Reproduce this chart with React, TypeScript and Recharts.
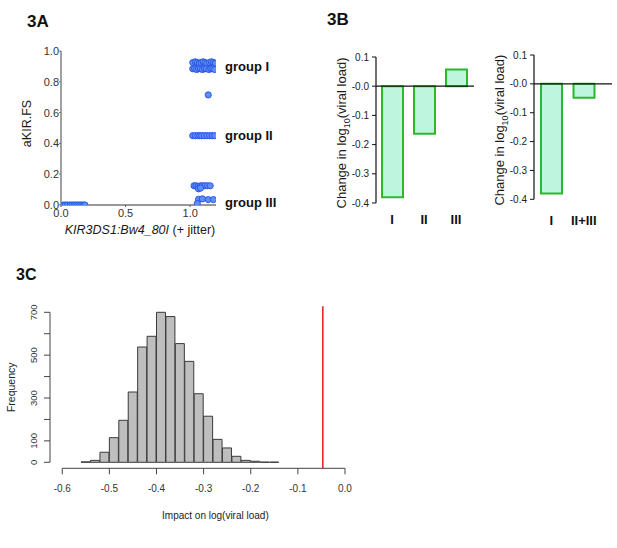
import React from "react";
import {
  ScatterChart,
  Scatter,
  BarChart,
  Bar,
  XAxis,
  YAxis,
  ReferenceLine,
  ReferenceDot,
} from "recharts";

const FONT = "'Liberation Sans', Arial, Helvetica, sans-serif";

// ---- 3A: aKIR.FS vs KIR3DS1:Bw4_80I carriage (x jittered) ----
const noncarriers: [number, number][] = [
  [0.02, 0], [0.035, 0], [0.05, 0], [0.07, 0], [0.085, 0], [0.1, 0],
  [0.115, 0], [0.13, 0], [0.145, 0], [0.16, 0], [0.175, 0], [0.185, 0],
];
const groupIPoints: [number, number][] = [
  [1.02, 0.925], [1.04, 0.93], [1.055, 0.925], [1.07, 0.92], [1.085, 0.925],
  [1.1, 0.93], [1.115, 0.925], [1.13, 0.92], [1.15, 0.925], [1.165, 0.93],
  [1.18, 0.925], [1.195, 0.92],
  [1.02, 0.885], [1.035, 0.885], [1.05, 0.88], [1.065, 0.885], [1.08, 0.885],
  [1.095, 0.88], [1.11, 0.885], [1.125, 0.885], [1.145, 0.88], [1.16, 0.885],
  [1.175, 0.885], [1.19, 0.88],
  [1.14, 0.715],
];
const groupIIPoints: [number, number][] = [
  [1.02, 0.45], [1.04, 0.45], [1.06, 0.45], [1.075, 0.45], [1.09, 0.45],
  [1.11, 0.45], [1.13, 0.45], [1.15, 0.45], [1.17, 0.45], [1.19, 0.45],
];
const groupIIIPoints: [number, number][] = [
  [1.03, 0.125], [1.045, 0.125], [1.06, 0.12], [1.08, 0.125], [1.095, 0.125],
  [1.115, 0.125], [1.135, 0.125], [1.155, 0.125], [1.065, 0.105], [1.08, 0.11],
  [1.065, 0.037], [1.095, 0.04], [1.14, 0.035], [1.18, 0.035], [1.055, 0.01],
];
const groupNames = ["group I", "group II", "group III"];
const groupLabelY = [0.9, 0.45, 0.02];
const fsTicks = [0, 0.2, 0.4, 0.6, 0.8, 1];
const jitterTicks = [0, 0.5, 1];

// ---- 3B: change in log10(viral load) by group ----
const groupsB1 = ["I", "II", "III"];
const changeB1 = [-0.38, -0.163, 0.057];
const groupsB2 = ["I", "II+III"];
const changeB2 = [-0.38, -0.048];
const changeTicks = [0.1, 0, -0.1, -0.2, -0.3, -0.4];

// ---- 3C: permutation histogram ----
const binLower = [
  -0.56, -0.54, -0.52, -0.5, -0.48, -0.46, -0.44, -0.42, -0.4, -0.38, -0.36,
  -0.34, -0.32, -0.3, -0.28, -0.26, -0.24, -0.22, -0.2, -0.18, -0.16,
];
const binCounts = [
  2, 9, 47, 115, 196, 328, 538, 588, 700, 680, 554,
  471, 320, 215, 107, 67, 28, 9, 5, 1, 1,
];
const binWidth = 0.02;
const impactTicks = [-0.6, -0.5, -0.4, -0.3, -0.2, -0.1, 0];
const freqTicks = [0, 100, 200, 300, 400, 500, 600, 700];
const freqLabelled = [0, 100, 300, 500, 700];
const observedImpact = -0.047;

const scatterData = [
  ...noncarriers,
  ...groupIPoints,
  ...groupIIPoints,
  ...groupIIIPoints,
].map(([x, y]) => ({ x, y }));
const dataB1 = groupsB1.map((group, i) => ({ group, change: changeB1[i] }));
const dataB2 = groupsB2.map((group, i) => ({ group, change: changeB2[i] }));
const histData = binLower.map((lo, i) => ({
  mid: +(lo + binWidth / 2).toFixed(3),
  count: binCounts[i],
}));

const fmtChange = (v: number) =>
  v > 0 ? v.toFixed(1) : "-" + Math.abs(v).toFixed(1);

const Dot = (props: any) => (
  <circle
    cx={props.cx}
    cy={props.cy}
    r={3.1}
    fill="#5f8ef8"
    stroke="#2350e0"
    strokeWidth={0.9}
  />
);

const vb = (p: any, d: any) => p?.viewBox ?? d;

const ChangeTitle = (p: any) => {
  const { x, y, height } = vb(p, { x: 20, y: 57, height: 146 });
  const cx = x + 1;
  const cy = y + height / 2 + 3;
  return (
    <text
      x={cx}
      y={cy}
      dy="0.35em"
      transform={`rotate(-90 ${cx} ${cy})`}
      textAnchor="middle"
      fontSize={13}
      fill="#1a1a1a"
      fontFamily={FONT}
    >
      Change in log
      <tspan fontSize={9} dy={4}>
        10
      </tspan>
      <tspan dy={-4}>(viral load)</tspan>
    </text>
  );
};

const FreqTick = (props: any) => {
  const { x, y, payload } = props;
  if (!freqLabelled.includes(payload.value)) return <g />;
  const bx = x - 5;
  return (
    <text
      x={bx}
      y={y}
      transform={`rotate(-90 ${bx} ${y})`}
      textAnchor="middle"
      fontSize={9.5}
      fill="#333"
      fontFamily={FONT}
    >
      {payload.value}
    </text>
  );
};

export default function App() {
  return (
    <div
      style={{
        position: "absolute",
        left: 0,
        top: 0,
        width: 617,
        height: 548,
        background: "#fff",
        fontFamily: FONT,
      }}
    >
      <svg
        width={617}
        height={548}
        style={{ position: "absolute", left: 0, top: 0 }}
        fontFamily={FONT}
        fontWeight="bold"
        fill="#111"
      >
        <text x={27} y={27} fontSize={17}>3A</text>
        <text x={327} y={25} fontSize={17}>3B</text>
        <text x={16} y={280} fontSize={16}>3C</text>
      </svg>

      {/* 3A */}
      <div style={{ position: "absolute", left: 0, top: 0 }}>
        <ScatterChart
          width={300}
          height={245}
          margin={{ top: 51, right: 84, bottom: 5, left: 21 }}
          style={{ fontFamily: FONT }}
        >
          <XAxis
            type="number"
            dataKey="x"
            domain={[0, 1.2]}
            allowDataOverflow
            ticks={jitterTicks}
            interval={0}
            tickFormatter={(v: number) => v.toFixed(1)}
            height={35}
            axisLine={{ stroke: "#333" }}
            tickLine={{ stroke: "#555" }}
            tickSize={2}
            tickMargin={2}
            tick={{ fontSize: 11, fill: "#333" }}
            label={(p: any) => {
              const { x, y, width } = vb(p, { x: 61, y: 205, width: 155 });
              return (
                <text
                  x={x + width / 2 + 1.5}
                  y={y + 25}
                  dy="0.35em"
                  textAnchor="middle"
                  fontSize={12.5}
                  fill="#1a1a1a"
                  fontFamily={FONT}
                >
                  <tspan fontStyle="italic">KIR3DS1:Bw4_80I</tspan> (+ jitter)
                </text>
              );
            }}
          />
          <YAxis
            type="number"
            dataKey="y"
            domain={[0, 1]}
            allowDataOverflow
            ticks={fsTicks}
            interval={0}
            tickFormatter={(v: number) => v.toFixed(1)}
            width={40}
            axisLine={{ stroke: "#a0a0a0", strokeWidth: 2 }}
            tickLine={{ stroke: "#777" }}
            tickSize={2}
            tickMargin={0}
            tick={{ fontSize: 11, fill: "#333" }}
            label={(p: any) => {
              const { x, y, height } = vb(p, { x: 21, y: 51, height: 154 });
              const cx = x + 6;
              const cy = y + height / 2 - 4.5;
              return (
                <text
                  x={cx}
                  y={cy}
                  dy="0.35em"
                  transform={`rotate(-90 ${cx} ${cy})`}
                  textAnchor="middle"
                  fontSize={12.5}
                  fill="#1a1a1a"
                  fontFamily={FONT}
                >
                  aKIR.FS
                </text>
              );
            }}
          />
          <Scatter
            data={scatterData}
            shape={<Dot />}
            isAnimationActive={false}
          />
          {groupNames.map((name, i) => (
            <ReferenceDot
              key={name}
              x={1.2}
              y={groupLabelY[i]}
              r={0}
              stroke="none"
              fill="none"
              ifOverflow="visible"
              label={{
                value: name,
                position: "right",
                offset: 9,
                fontSize: 13,
                fontWeight: "bold",
                fill: "#111",
              }}
            />
          ))}
        </ScatterChart>
      </div>

      {/* 3B left */}
      <div style={{ position: "absolute", left: 320, top: 0 }}>
        <BarChart
          width={160}
          height={240}
          data={dataB1}
          margin={{ top: 57, right: 6, bottom: 12, left: 20 }}
          barSize={21}
          style={{ fontFamily: FONT }}
        >
          <XAxis
            dataKey="group"
            axisLine={false}
            tickLine={false}
            tickSize={0}
            tickMargin={12}
            height={25}
            interval={0}
            padding={{ left: 0, right: 2 }}
            tick={{ fontSize: 13, fontWeight: "bold", fill: "#111" }}
          />
          <YAxis
            domain={[-0.4, 0.1]}
            allowDataOverflow
            ticks={changeTicks}
            interval={0}
            tickFormatter={fmtChange}
            width={36}
            axisLine={{ stroke: "#111", strokeWidth: 1.2 }}
            tickLine={{ stroke: "#111" }}
            tickSize={4}
            tickMargin={3}
            tick={{ fontSize: 10, fill: "#222" }}
            label={(p: any) => <ChangeTitle {...p} />}
          />
          <Bar
            dataKey="change"
            fill="#bdf5de"
            stroke="#2cb82c"
            strokeWidth={2}
            isAnimationActive={false}
          />
          <ReferenceLine y={0} stroke="#111" strokeWidth={1.3} />
        </BarChart>
      </div>

      {/* 3B right */}
      <div style={{ position: "absolute", left: 478, top: 0 }}>
        <BarChart
          width={139}
          height={240}
          data={dataB2}
          margin={{ top: 55, right: 5, bottom: 15.7, left: 20 }}
          barSize={21}
          style={{ fontFamily: FONT }}
        >
          <XAxis
            dataKey="group"
            axisLine={false}
            tickLine={false}
            tickSize={0}
            tickMargin={16}
            height={25}
            interval={0}
            padding={{ left: 1, right: 12 }}
            tick={{ fontSize: 13, fontWeight: "bold", fill: "#111" }}
          />
          <YAxis
            domain={[-0.4, 0.1]}
            allowDataOverflow
            ticks={changeTicks}
            interval={0}
            tickFormatter={fmtChange}
            width={36}
            axisLine={{ stroke: "#111", strokeWidth: 1.2 }}
            tickLine={{ stroke: "#111" }}
            tickSize={4}
            tickMargin={3}
            tick={{ fontSize: 10, fill: "#222" }}
            label={(p: any) => <ChangeTitle {...p} />}
          />
          <Bar
            dataKey="change"
            fill="#bdf5de"
            stroke="#2cb82c"
            strokeWidth={2}
            isAnimationActive={false}
          />
          <ReferenceLine y={0} stroke="#111" strokeWidth={1.3} />
        </BarChart>
      </div>

      {/* 3C */}
      <div style={{ position: "absolute", left: 0, top: 270 }}>
        <BarChart
          width={400}
          height={278}
          data={histData}
          margin={{ top: 36.3, right: 19.2, bottom: 49.7, left: 20 }}
          barCategoryGap={0}
          barGap={0}
          style={{ fontFamily: FONT }}
        >
          <XAxis
            type="number"
            dataKey="mid"
            domain={[-0.626, 0.076]}
            allowDataOverflow
            ticks={impactTicks}
            interval={0}
            tickFormatter={(v: number) => v.toFixed(1)}
            axisLine={false}
            tickLine={{ stroke: "#444" }}
            tickSize={6}
            tickMargin={11}
            height={30}
            tick={{ fontSize: 10, fill: "#333" }}
            label={(p: any) => {
              const { x, y, width } = vb(p, { x: 50, y: 198.3, width: 330.8 });
              return (
                <text
                  x={x + width / 2}
                  y={y + 47.4}
                  dy="0.35em"
                  textAnchor="middle"
                  fontSize={10}
                  fill="#222"
                  fontFamily={FONT}
                >
                  Impact on log(viral load)
                </text>
              );
            }}
          />
          <YAxis
            type="number"
            domain={[-28, 728]}
            allowDataOverflow
            ticks={freqTicks}
            interval={0}
            axisLine={false}
            tickLine={{ stroke: "#444" }}
            tickSize={6}
            width={30}
            tick={<FreqTick />}
            label={(p: any) => {
              const { x, y, height } = vb(p, { x: 20, y: 36.3, height: 162 });
              const cx = x - 8.3;
              const cy = y + height / 2;
              return (
                <text
                  x={cx}
                  y={cy}
                  dy="0.35em"
                  transform={`rotate(-90 ${cx} ${cy})`}
                  textAnchor="middle"
                  fontSize={10.5}
                  fill="#222"
                  fontFamily={FONT}
                >
                  Frequency
                </text>
              );
            }}
          />
          <Bar
            dataKey="count"
            fill="#bebebe"
            stroke="#3a3a3a"
            strokeWidth={1}
            isAnimationActive={false}
          />
          <ReferenceLine
            segment={[
              { x: impactTicks[0], y: -28 },
              { x: impactTicks[impactTicks.length - 1], y: -28 },
            ]}
            stroke="#444"
            ifOverflow="visible"
          />
          <ReferenceLine
            segment={[
              { x: -0.626, y: freqTicks[0] },
              { x: -0.626, y: freqTicks[freqTicks.length - 1] },
            ]}
            stroke="#444"
            ifOverflow="visible"
          />
          <ReferenceLine
            x={observedImpact}
            stroke="#e41a1c"
            strokeWidth={1.5}
            ifOverflow="visible"
          />
        </BarChart>
      </div>
    </div>
  );
}
